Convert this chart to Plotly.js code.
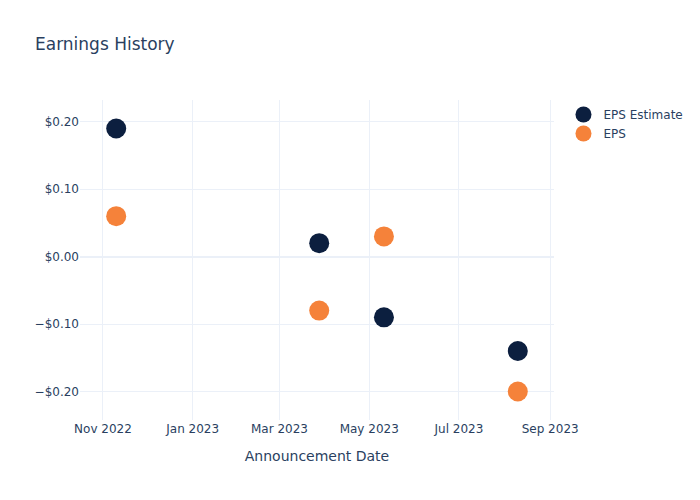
<!DOCTYPE html>
<html>
<head>
<meta charset="utf-8">
<script src="https://cdn.plot.ly/plotly-3.0.1.min.js"></script>
<style>html,body{margin:0;padding:0;background:#fff;}#chart{width:700px;height:500px;}</style>
</head>
<body>
<div id="chart"></div>
<script>
const dates = ["2022-11-10", "2023-03-28", "2023-05-11", "2023-08-10"];
const epsEstimate = [0.19, 0.02, -0.09, -0.14];
const eps = [0.06, -0.08, 0.03, -0.20];
const seriesNames = ["EPS Estimate", "EPS"];
const seriesColors = ["#0c1f3f", "#f5823a"];

const data = [
  {x: dates, y: epsEstimate, name: seriesNames[0], type: "scatter", mode: "markers",
   marker: {color: seriesColors[0], size: 20}},
  {x: dates, y: eps, name: seriesNames[1], type: "scatter", mode: "markers",
   marker: {color: seriesColors[1], size: 20}}
];
const layout = {
  width: 700, height: 500,
  template: "plotly_white",
  paper_bgcolor: "#fff", plot_bgcolor: "#fff",
  font: {family: "'DejaVu Sans', verdana, arial, sans-serif", color: "#2a3f5f", size: 12},
  title: {text: "Earnings History", x: 0.05, font: {size: 17}},
  xaxis: {title: {text: "Announcement Date", standoff: 16}, gridcolor: "#ebf0f8", zeroline: false, showline: false},
  yaxis: {tickformat: "$.2f", gridcolor: "#ebf0f8", zerolinecolor: "#ebf0f8", zerolinewidth: 2, showline: false},
  legend: {font: {size: 12}}
};
Plotly.newPlot("chart", data, layout, {displayModeBar: false});
</script>
</body>
</html>
